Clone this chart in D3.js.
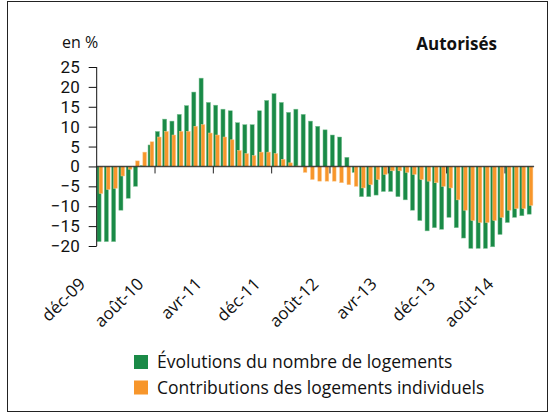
<!DOCTYPE html>
<html><head><meta charset="utf-8">
<script src="https://cdn.jsdelivr.net/npm/d3@7"></script>
<style>
html,body{margin:0;padding:0;background:#fff;}
svg{display:block;font-family:"Open Sans",sans-serif;}
</style></head>
<body>
<svg id="c" width="552" height="418"></svg>
<script>
const months = ["déc-09","janv-10","févr-10","mars-10","avr-10","mai-10","juin-10","juil-10","août-10","sept-10","oct-10","nov-10",
"déc-10","janv-11","févr-11","mars-11","avr-11","mai-11","juin-11","juil-11","août-11","sept-11","oct-11","nov-11",
"déc-11","janv-12","févr-12","mars-12","avr-12","mai-12","juin-12","juil-12","août-12","sept-12","oct-12","nov-12",
"déc-12","janv-13","févr-13","mars-13","avr-13","mai-13","juin-13","juil-13","août-13","sept-13","oct-13","nov-13",
"déc-13","janv-14","févr-14","mars-14","avr-14","mai-14","juin-14","juil-14","août-14","sept-14","oct-14","nov-14"];

const evolutions = [-18.9,-18.9,-18.9,-11.0,-8.0,-5.0,0.2,5.4,8.8,11.9,
11.4,13.1,15.3,18.7,22.2,16.1,15.4,14.4,14.0,11.0,
10.5,10.5,14.0,16.6,18.3,16.1,13.6,14.4,13.1,11.4,
10.1,9.2,7.9,7.4,2.3,-1.5,-7.6,-7.6,-7.2,-6.3,
-6.3,-7.6,-8.4,-11.0,-13.6,-16.2,-15.4,-15.8,-12.8,-15.4,
-18.0,-20.6,-20.6,-20.6,-20.2,-17.1,-14.1,-12.8,-12.4,-12.0];

const contributions = [-6.8,-5.8,-5.5,-2.4,-0.7,1.4,3.6,6.2,7.4,8.8,
7.9,8.8,8.8,10.1,10.5,8.4,7.9,7.4,6.7,4.0,
3.2,2.7,3.6,3.6,3.2,1.8,0.9,0.1,-1.5,-3.3,
-3.7,-3.7,-3.7,-4.1,-4.6,-5.0,-5.4,-4.6,-3.3,-2.0,
-1.1,-1.1,-1.5,-2.0,-3.3,-3.7,-4.1,-5.0,-5.4,-8.4,
-11.0,-13.6,-14.1,-14.1,-13.6,-12.8,-11.0,-10.6,-10.6,-9.8];

const yTicks = [-20,-15,-10,-5,0,5,10,15,20,25];
const xTickLabels = ["déc-09","août-10","avr-11","déc-11","août-12","avr-13","déc-13","août-14"];
const seriesNames = ["Évolutions du nombre de logements","Contributions des logements individuels"];
const colors = ["#1a8a47","#f7962b"];
const edgeColors = ["#7fc496","#fbc98f"];

const svg = d3.select("#c");
// frame
svg.append("rect").attr("x",7.5).attr("y",1.5).attr("width",540).attr("height",410)
  .attr("fill","none").attr("stroke","#222").attr("stroke-width",1);

const x = d3.scaleBand().domain(d3.range(months.length)).range([96.7,534.1]).padding(0);
const y = d3.scaleLinear().domain([-20,25]).range([246,67]);
const bw = x.bandwidth();

// bars
const g = svg.append("g");
g.selectAll("rect.ev").data(evolutions).join("rect").attr("class","ev")
  .attr("x",(d,i)=>x(i)+0.3).attr("width",4.1)
  .attr("y",d=>y(Math.max(0,d))).attr("height",d=>Math.abs(y(d)-y(0)))
  .attr("fill",colors[0]).attr("stroke",edgeColors[0]).attr("stroke-width",0.5);
g.selectAll("rect.co").data(contributions).join("rect").attr("class","co")
  .attr("x",(d,i)=>x(i)+2.4).attr("width",3.7)
  .attr("y",d=>y(Math.max(0,d))).attr("height",d=>Math.abs(y(d)-y(0)))
  .attr("fill",colors[1]).attr("stroke",edgeColors[1]).attr("stroke-width",0.5);

// y axis
const yAxis = d3.axisLeft(y).tickValues(yTicks).tickSize(8).tickPadding(9).tickFormat(d3.format("d"));
const ya = svg.append("g").attr("transform","translate(96.7,0)").call(yAxis);
ya.selectAll("text").attr("font-size",17).attr("fill","#111").attr("font-family","Roboto");
ya.selectAll("line,path").attr("stroke","#111");
ya.select("path").attr("d","M0,67V246");

// zero line
svg.append("line").attr("x1",96.7).attr("x2",534.1).attr("y1",y(0)).attr("y2",y(0))
  .attr("stroke","#2a2a2a").attr("stroke-width",1.5).attr("stroke-opacity",0.85);

// x ticks every 8 categories
const tickIdx = d3.range(8, months.length, 8);
svg.selectAll("line.xt").data(tickIdx).join("line").attr("class","xt")
  .attr("x1",d=>x(d)).attr("x2",d=>x(d)).attr("y1",y(0)).attr("y2",y(0)+7)
  .attr("stroke","#222").attr("stroke-width",1);

// x labels
svg.selectAll("text.xl").data(xTickLabels).join("text").attr("class","xl")
  .attr("transform",(d)=>{const i=months.indexOf(d);const cx=x(i)+bw/2-14;return `translate(${cx},285) rotate(-45)`;})
  .attr("text-anchor","end").attr("font-size",17).attr("fill","#111").text(d=>d);

// titles
svg.append("text").attr("x",62).attr("y",48).attr("font-size",16).attr("fill","#111").text("en %");
svg.append("text").attr("x",497).attr("y",50).attr("text-anchor","end").attr("font-size",17)
  .attr("font-weight","bold").attr("fill","#111").text("Autorisés");

// legend
const lg = svg.append("g");
seriesNames.forEach((n,k)=>{
  lg.append("rect").attr("x",134).attr("y",355+k*25.5).attr("width",14).attr("height",14).attr("fill",colors[k]);
  lg.append("text").attr("x",157).attr("y",368+k*25.5).attr("font-size",17.5).attr("fill","#111").text(n);
});
</script>
</body></html>
